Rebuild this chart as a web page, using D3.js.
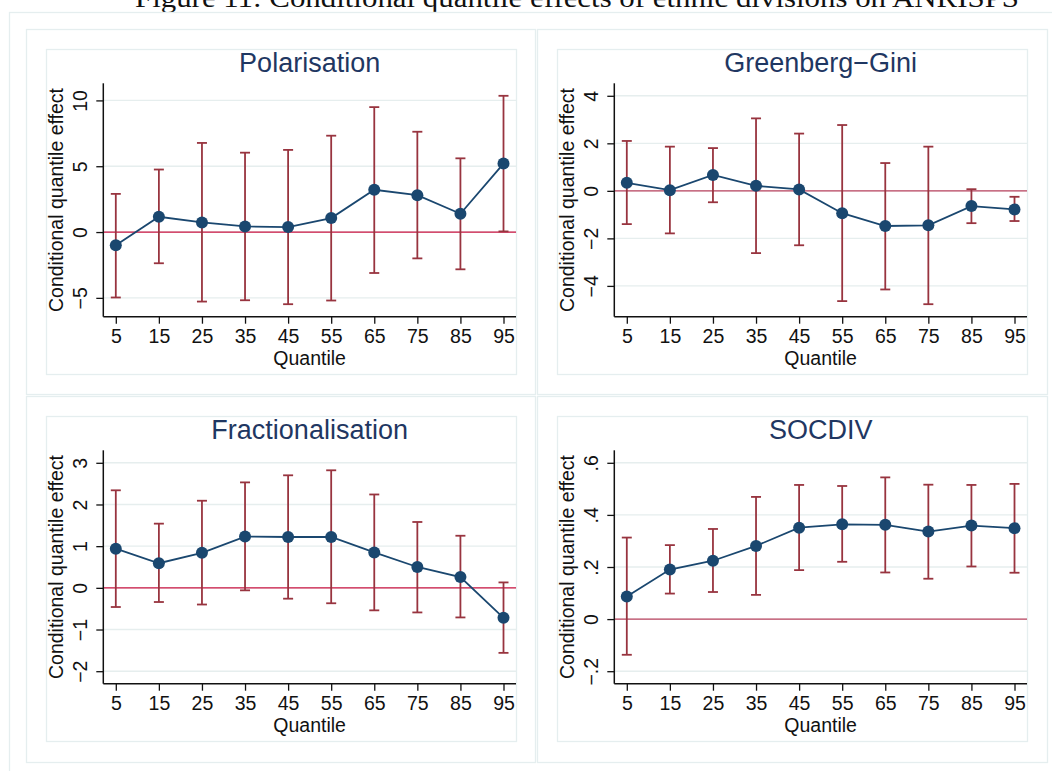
<!DOCTYPE html>
<html>
<head>
<meta charset="utf-8">
<script src="https://cdn.jsdelivr.net/npm/d3@7"></script>
<style>
  html, body { margin: 0; padding: 0; background: #fff; }
  svg { display: block; }
  text { font-family: "Liberation Sans", Arial, Helvetica, sans-serif; }
</style>
</head>
<body>
<svg id="chart" width="1052" height="771"></svg>
<script>
// Quantiles at which the effects were estimated
const quantiles = [5, 15, 25, 35, 45, 55, 65, 75, 85, 95];

// Polarisation: point estimate, lower and upper confidence bounds
const polarEst   = [-1.01, 1.16, 0.73, 0.43, 0.38, 1.06, 3.21, 2.80, 1.39, 5.20];
const polarLower = [-4.97, -2.37, -5.28, -5.18, -5.48, -5.20, -3.11, -2.00, -2.83, 0.05];
const polarUpper = [2.90, 4.75, 6.77, 6.03, 6.24, 7.32, 9.49, 7.62, 5.60, 10.35];
const polarTicks = [-5, 0, 5, 10];

// Greenberg-Gini
const gginiEst   = [0.34, 0.03, 0.67, 0.21, 0.06, -0.94, -1.48, -1.45, -0.64, -0.78];
const gginiLower = [-1.40, -1.79, -0.48, -2.62, -2.29, -4.64, -4.15, -4.77, -1.36, -1.27];
const gginiUpper = [2.10, 1.86, 1.80, 3.05, 2.41, 2.77, 1.17, 1.86, 0.07, -0.25];
const gginiTicks = [-4, -2, 0, 2, 4];

// Fractionalisation
const fracEst   = [0.94, 0.59, 0.84, 1.23, 1.22, 1.22, 0.85, 0.50, 0.26, -0.72];
const fracLower = [-0.46, -0.34, -0.40, -0.06, -0.26, -0.37, -0.54, -0.59, -0.71, -1.56];
const fracUpper = [2.34, 1.54, 2.09, 2.53, 2.70, 2.82, 2.24, 1.58, 1.25, 0.13];
const fracTicks = [-2, -1, 0, 1, 2, 3];

// SOCDIV
const socEst   = [0.087, 0.190, 0.224, 0.281, 0.351, 0.364, 0.362, 0.336, 0.359, 0.349];
const socLower = [-0.137, 0.098, 0.104, 0.093, 0.188, 0.220, 0.179, 0.155, 0.202, 0.178];
const socUpper = [0.313, 0.284, 0.346, 0.469, 0.515, 0.511, 0.544, 0.516, 0.515, 0.519];
const socTicks = [-0.2, 0, 0.2, 0.4, 0.6];

const figureCaption = "Figure 11: Conditional quantile effects of ethnic divisions on ANRISPS";
const xTitle = "Quantile";
const yTitle = "Conditional quantile effect";

// Stata-style number labels: long minus sign, no leading zero
function stataFmt(v) {
  let s = String(+v.toFixed(4));
  if (s.startsWith("0.")) s = s.slice(1);
  if (s.startsWith("-0.")) s = "-" + s.slice(2);
  return s.replace("-", "\u2212");
}

const panels = [
  { title: "Polarisation", est: polarEst, lo: polarLower, hi: polarUpper, ticks: polarTicks, col: 0, row: 0, zero: "#cc1442" },
  { title: "Greenberg\u2212Gini", est: gginiEst, lo: gginiLower, hi: gginiUpper, ticks: gginiTicks, col: 1, row: 0, zero: "#bd4560" },
  { title: "Fractionalisation", est: fracEst, lo: fracLower, hi: fracUpper, ticks: fracTicks, col: 0, row: 1, zero: "#cc1442" },
  { title: "SOCDIV", est: socEst, lo: socLower, hi: socUpper, ticks: socTicks, col: 1, row: 1, zero: "#bd4560" }
];

const svg = d3.select("#chart");
const frameColor = "#e5eeef";
const navy = "#1a476f";
const maroon = "#98343f";
const gridColor = "#e6eeee";

// Figure caption (top of the page, partly above the visible area)
svg.append("text")
  .attr("x", 577).attr("y", 7)
  .attr("text-anchor", "middle")
  .attr("textLength", 884).attr("lengthAdjust", "spacingAndGlyphs")
  .style("font-family", "'Liberation Serif', 'Times New Roman', serif")
  .style("font-size", "27px")
  .attr("fill", "#111")
  .text(figureCaption);

// Outer frame of the combined graph
svg.append("rect")
  .attr("x", 9.5).attr("y", 12.5).attr("width", 1100).attr("height", 800)
  .attr("fill", "none").attr("stroke", frameColor).attr("stroke-width", 1.3);

const colX = [26, 537];
const colW = [509, 510];
const rowY = [29, 396];
const rowH = [365, 366];
const innerX = [46, 557];
const innerY = [49, 416];

panels.forEach(p => {
  const g = svg.append("g");
  const x0 = innerX[p.col], y0 = innerY[p.row];

  // Subgraph frame and inner region frame
  g.append("rect")
    .attr("x", colX[p.col] + 0.5).attr("y", rowY[p.row] + 0.5)
    .attr("width", colW[p.col]).attr("height", rowH[p.row])
    .attr("fill", "none").attr("stroke", frameColor).attr("stroke-width", 1.3);
  g.append("rect")
    .attr("x", x0 + 0.5).attr("y", y0 + 0.5)
    .attr("width", 470).attr("height", 325)
    .attr("fill", "none").attr("stroke", frameColor).attr("stroke-width", 1.3);

  const left = x0 + 57.3, right = x0 + 470, top = y0 + 34.3, bottom = y0 + 267.7;
  const pad = 12.5;

  const x = d3.scaleLinear()
    .domain(d3.extent(quantiles))
    .range([left + pad, right - pad]);

  const yMin = Math.min(d3.min(p.lo), d3.min(p.ticks));
  const yMax = Math.max(d3.max(p.hi), d3.max(p.ticks));
  const y = d3.scaleLinear()
    .domain([yMin, yMax])
    .range([bottom - pad, top + pad]);

  // Horizontal grid lines at the labelled values
  g.append("g").selectAll("line").data(p.ticks).join("line")
    .attr("x1", left).attr("x2", right)
    .attr("y1", d => y(d)).attr("y2", d => y(d))
    .attr("stroke", gridColor).attr("stroke-width", 1.4);

  // Reference line at zero
  g.append("line")
    .attr("x1", left).attr("x2", right)
    .attr("y1", y(0)).attr("y2", y(0))
    .attr("stroke", p.zero).attr("stroke-width", 1.3);

  // Y axis with vertical labels
  const yAxis = g.append("g")
    .attr("transform", `translate(${left},0)`)
    .call(d3.axisLeft(y).tickValues(p.ticks).tickFormat(stataFmt).tickSize(7));
  yAxis.select(".domain").remove();
  yAxis.selectAll(".tick line").attr("stroke", "#111").attr("stroke-width", 1.3);
  yAxis.selectAll(".tick text")
    .attr("x", null).attr("dy", null)
    .attr("transform", "translate(-16,0) rotate(-90)")
    .attr("text-anchor", "middle")
    .attr("fill", "#111")
    .style("font-size", "19.5px");

  // X axis
  const xAxis = g.append("g")
    .attr("transform", `translate(0,${bottom})`)
    .call(d3.axisBottom(x).tickValues(quantiles).tickFormat(d3.format("d")).tickSize(7));
  xAxis.select(".domain").remove();
  xAxis.selectAll(".tick line").attr("stroke", "#111").attr("stroke-width", 1.3);
  xAxis.selectAll(".tick text")
    .attr("y", 26).attr("dy", null)
    .attr("fill", "#111")
    .style("font-size", "19.5px");

  // Axis lines spanning the plot region
  g.append("line")
    .attr("x1", left).attr("x2", left).attr("y1", top).attr("y2", bottom)
    .attr("stroke", "#111").attr("stroke-width", 1.5);
  g.append("line")
    .attr("x1", left).attr("x2", right).attr("y1", bottom).attr("y2", bottom)
    .attr("stroke", "#111").attr("stroke-width", 1.5);

  // Axis titles
  g.append("text")
    .attr("x", (left + right) / 2).attr("y", bottom + 48.3)
    .attr("text-anchor", "middle").attr("fill", "#111")
    .style("font-size", "19.5px")
    .text(xTitle);
  g.append("text")
    .attr("transform", `translate(${x0 + 17.3},${(top + bottom) / 2}) rotate(-90)`)
    .attr("text-anchor", "middle").attr("fill", "#111")
    .style("font-size", "19.5px")
    .text(yTitle);

  // Panel title
  g.append("text")
    .attr("x", (left + right) / 2).attr("y", y0 + 23.3)
    .attr("text-anchor", "middle").attr("fill", "#1f3762")
    .style("font-size", "27px")
    .text(p.title);

  const rows = quantiles.map((q, i) => ({ q, est: p.est[i], lo: p.lo[i], hi: p.hi[i] }));

  // Confidence intervals with caps
  const ci = g.append("g").attr("stroke", maroon).attr("stroke-width", 1.8).attr("fill", "none");
  ci.selectAll("line.v").data(rows).join("line").attr("class", "v")
    .attr("x1", d => x(d.q)).attr("x2", d => x(d.q))
    .attr("y1", d => y(d.lo)).attr("y2", d => y(d.hi));
  ci.selectAll("line.capHi").data(rows).join("line").attr("class", "capHi")
    .attr("x1", d => x(d.q) - 5).attr("x2", d => x(d.q) + 5)
    .attr("y1", d => y(d.hi)).attr("y2", d => y(d.hi));
  ci.selectAll("line.capLo").data(rows).join("line").attr("class", "capLo")
    .attr("x1", d => x(d.q) - 5).attr("x2", d => x(d.q) + 5)
    .attr("y1", d => y(d.lo)).attr("y2", d => y(d.lo));

  // Connected point estimates
  g.append("path")
    .datum(rows)
    .attr("fill", "none").attr("stroke", navy).attr("stroke-width", 1.8)
    .attr("d", d3.line().x(d => x(d.q)).y(d => y(d.est)));
  g.append("g").selectAll("circle").data(rows).join("circle")
    .attr("cx", d => x(d.q)).attr("cy", d => y(d.est))
    .attr("r", 6).attr("fill", navy);
});
</script>
</body>
</html>
